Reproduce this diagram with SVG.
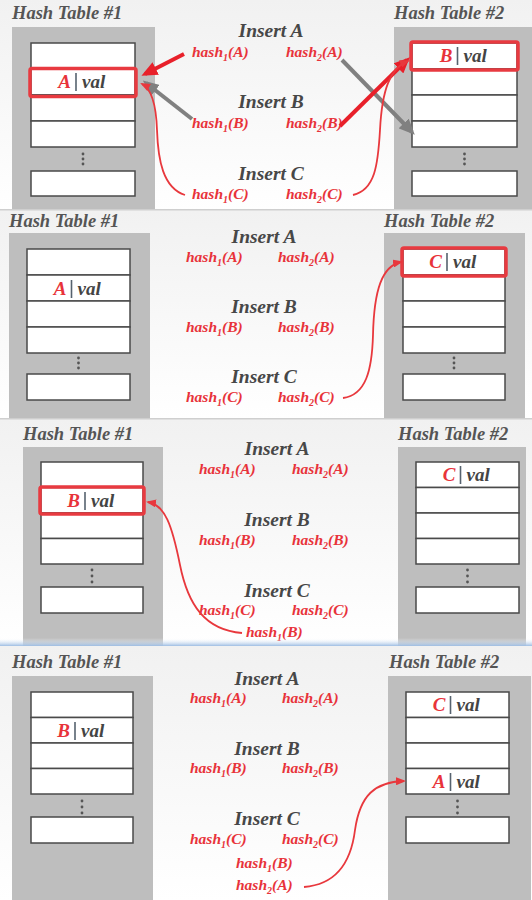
<svg xmlns="http://www.w3.org/2000/svg" width="532" height="900" viewBox="0 0 532 900">
<style>
.bg{fill:url(#bgg)}
.title{font-family:"Liberation Serif","DejaVu Serif",serif;font-style:italic;font-weight:bold;font-size:18.5px;fill:#555}
.ins{font-family:"Liberation Serif","DejaVu Serif",serif;font-style:italic;font-weight:bold;font-size:19.5px;fill:#474747;text-anchor:middle}
.h{font-family:"Liberation Serif","DejaVu Serif",serif;font-style:italic;font-weight:bold;font-size:15.5px;fill:#e8333a}
.sub{font-size:10px}
.tbl{fill:#bebebe}
.slot{fill:#fff;stroke:#4a4a4a;stroke-width:1.5}
.hl{fill:none;stroke:#e83a40;stroke-width:3.5}
.k{font-family:"Liberation Serif","DejaVu Serif",serif;font-style:italic;font-weight:bold;font-size:19px;fill:#e8333a;text-anchor:end}
.v{font-family:"Liberation Serif","DejaVu Serif",serif;font-style:italic;font-weight:bold;font-size:19px;fill:#444}
.bar{stroke:#56626e;stroke-width:1.6}
.dot{fill:#555}
.tr{fill:none;stroke:#e8202a;stroke-width:4}
.tg{fill:none;stroke:#808080;stroke-width:4}
.thin{fill:none;stroke:#e8383d;stroke-width:1.8}
.sep{fill:#cfcfcf}
</style>
<defs>
<linearGradient id="bgg" x1="0" y1="0" x2="0" y2="1">
<stop offset="0" stop-color="#f1f1f1"/>
<stop offset="1" stop-color="#ffffff"/>
</linearGradient>
<linearGradient id="blue" x1="0" y1="0" x2="0" y2="1">
<stop offset="0" stop-color="#ffffff" stop-opacity="0"/>
<stop offset="1" stop-color="#9dbde3"/>
</linearGradient>
<marker id="ar" markerUnits="userSpaceOnUse" viewBox="0 0 16 14" markerWidth="16" markerHeight="14" refX="12" refY="7" orient="auto"><path d="M0,0 L16,7 L0,14 z" fill="#e8202a"/></marker>
<marker id="ag" markerUnits="userSpaceOnUse" viewBox="0 0 16 14" markerWidth="16" markerHeight="14" refX="12" refY="7" orient="auto"><path d="M0,0 L16,7 L0,14 z" fill="#808080"/></marker>
<marker id="at" markerUnits="userSpaceOnUse" viewBox="0 0 10 8" markerWidth="10" markerHeight="8" refX="8" refY="4" orient="auto"><path d="M0,0 L10,4 L0,8 z" fill="#e8383d"/></marker>
</defs>

<!-- panel backgrounds -->
<g id="backgrounds">
<rect class="bg" x="0" y="0" width="532" height="210"/>
<rect class="bg" x="0" y="210" width="532" height="209"/>
<rect class="bg" x="0" y="419" width="532" height="227"/>
<rect class="bg" x="0" y="646" width="532" height="254"/>
</g>

<!-- ================= PANEL 1 ================= -->
<g id="p1">
<text class="title" x="12" y="19">Hash Table #1</text>
<text class="title" x="394" y="19">Hash Table #2</text>
<g id="p1-ht1">
<rect class="tbl" x="12" y="27" width="143" height="183"/>
<rect class="slot" x="31" y="43" width="104" height="26"/>
<rect class="slot" x="31" y="69" width="104" height="26"/>
<rect class="slot" x="31" y="95" width="104" height="26"/>
<rect class="slot" x="31" y="121" width="104" height="26"/>
<circle class="dot" cx="83" cy="154" r="1.4"/><circle class="dot" cx="83" cy="159" r="1.4"/><circle class="dot" cx="83" cy="164" r="1.4"/>
<rect class="slot" x="31" y="171" width="104" height="25"/>
<rect class="hl" x="30" y="68.5" width="106" height="28" rx="2"/>
<text class="k" x="71" y="88">A</text><line class="bar" x1="76" y1="73" x2="76" y2="91"/><text class="v" x="82" y="88">val</text>
</g>
<g id="p1-ht2">
<rect class="tbl" x="394" y="27" width="138" height="183"/>
<rect class="slot" x="412" y="43" width="105" height="26"/>
<rect class="slot" x="412" y="69" width="105" height="26"/>
<rect class="slot" x="412" y="95" width="105" height="26"/>
<rect class="slot" x="412" y="121" width="105" height="26"/>
<circle class="dot" cx="464.5" cy="154" r="1.4"/><circle class="dot" cx="464.5" cy="159" r="1.4"/><circle class="dot" cx="464.5" cy="164" r="1.4"/>
<rect class="slot" x="412" y="171" width="105" height="25"/>
<rect class="hl" x="411" y="42" width="107" height="28" rx="2"/>
<text class="k" x="452.5" y="62">B</text><line class="bar" x1="457.5" y1="47" x2="457.5" y2="65"/><text class="v" x="463.5" y="62">val</text>
</g>
<g id="p1-ops">
<text class="ins" x="271" y="37">Insert A</text>
<text class="h" x="192" y="57">hash<tspan class="sub" dy="4">1</tspan><tspan dy="-4">(A)</tspan></text>
<text class="h" x="286" y="57">hash<tspan class="sub" dy="4">2</tspan><tspan dy="-4">(A)</tspan></text>
<text class="ins" x="271" y="108">Insert B</text>
<text class="h" x="192" y="128">hash<tspan class="sub" dy="4">1</tspan><tspan dy="-4">(B)</tspan></text>
<text class="h" x="286" y="128">hash<tspan class="sub" dy="4">2</tspan><tspan dy="-4">(B)</tspan></text>
<text class="ins" x="271" y="180">Insert C</text>
<text class="h" x="192" y="199">hash<tspan class="sub" dy="4">1</tspan><tspan dy="-4">(C)</tspan></text>
<text class="h" x="286" y="199">hash<tspan class="sub" dy="4">2</tspan><tspan dy="-4">(C)</tspan></text>
</g>
</g>

<!-- ================= PANEL 2 ================= -->
<g id="p2">
<text class="title" x="9" y="227">Hash Table #1</text>
<text class="title" x="384" y="227">Hash Table #2</text>
<g id="p2-ht1">
<rect class="tbl" x="9" y="233" width="141" height="186"/>
<rect class="slot" x="27" y="249" width="103" height="26"/>
<rect class="slot" x="27" y="275" width="103" height="26"/>
<rect class="slot" x="27" y="301" width="103" height="26"/>
<rect class="slot" x="27" y="327" width="103" height="26"/>
<circle class="dot" cx="78.5" cy="358" r="1.4"/><circle class="dot" cx="78.5" cy="363" r="1.4"/><circle class="dot" cx="78.5" cy="368" r="1.4"/>
<rect class="slot" x="27" y="374" width="103" height="26"/>
<text class="k" x="66.5" y="295">A</text><line class="bar" x1="71.5" y1="280" x2="71.5" y2="298"/><text class="v" x="77.5" y="295">val</text>
</g>
<g id="p2-ht2">
<rect class="tbl" x="384" y="233" width="141" height="186"/>
<rect class="slot" x="403" y="249" width="102" height="26"/>
<rect class="slot" x="403" y="275" width="102" height="26"/>
<rect class="slot" x="403" y="301" width="102" height="26"/>
<rect class="slot" x="403" y="327" width="102" height="26"/>
<circle class="dot" cx="454" cy="358" r="1.4"/><circle class="dot" cx="454" cy="363" r="1.4"/><circle class="dot" cx="454" cy="368" r="1.4"/>
<rect class="slot" x="403" y="374" width="102" height="26"/>
<rect class="hl" x="402" y="248" width="104" height="28" rx="2"/>
<text class="k" x="442" y="268">C</text><line class="bar" x1="447" y1="253" x2="447" y2="271"/><text class="v" x="453" y="268">val</text>
</g>
<g id="p2-ops">
<text class="ins" x="264" y="243">Insert A</text>
<text class="h" x="186" y="262">hash<tspan class="sub" dy="4">1</tspan><tspan dy="-4">(A)</tspan></text>
<text class="h" x="278" y="262">hash<tspan class="sub" dy="4">2</tspan><tspan dy="-4">(A)</tspan></text>
<text class="ins" x="264" y="313">Insert B</text>
<text class="h" x="186" y="332">hash<tspan class="sub" dy="4">1</tspan><tspan dy="-4">(B)</tspan></text>
<text class="h" x="278" y="332">hash<tspan class="sub" dy="4">2</tspan><tspan dy="-4">(B)</tspan></text>
<text class="ins" x="264" y="383">Insert C</text>
<text class="h" x="186" y="402">hash<tspan class="sub" dy="4">1</tspan><tspan dy="-4">(C)</tspan></text>
<text class="h" x="278" y="402">hash<tspan class="sub" dy="4">2</tspan><tspan dy="-4">(C)</tspan></text>
</g>
</g>

<!-- ================= PANEL 3 ================= -->
<g id="p3">
<text class="title" x="23" y="440">Hash Table #1</text>
<text class="title" x="398" y="440">Hash Table #2</text>
<g id="p3-ht1">
<rect class="tbl" x="23" y="447" width="140" height="199"/>
<rect class="slot" x="41" y="462" width="102" height="25.5"/>
<rect class="slot" x="41" y="487.5" width="102" height="25.5"/>
<rect class="slot" x="41" y="513" width="102" height="25.5"/>
<rect class="slot" x="41" y="538.5" width="102" height="25.5"/>
<circle class="dot" cx="92" cy="570" r="1.4"/><circle class="dot" cx="92" cy="576" r="1.4"/><circle class="dot" cx="92" cy="582" r="1.4"/>
<rect class="slot" x="41" y="587" width="102" height="26"/>
<rect class="hl" x="40" y="487" width="104" height="27" rx="2"/>
<text class="k" x="80" y="507">B</text><line class="bar" x1="85" y1="492" x2="85" y2="510"/><text class="v" x="91" y="507">val</text>
</g>
<g id="p3-ht2">
<rect class="tbl" x="398" y="447" width="128" height="199"/>
<rect class="slot" x="416" y="462" width="103" height="25.5"/>
<rect class="slot" x="416" y="487.5" width="103" height="25.5"/>
<rect class="slot" x="416" y="513" width="103" height="25.5"/>
<rect class="slot" x="416" y="538.5" width="103" height="25.5"/>
<circle class="dot" cx="467.5" cy="570" r="1.4"/><circle class="dot" cx="467.5" cy="576" r="1.4"/><circle class="dot" cx="467.5" cy="582" r="1.4"/>
<rect class="slot" x="416" y="587" width="103" height="26"/>
<text class="k" x="455.5" y="481">C</text><line class="bar" x1="460.5" y1="466" x2="460.5" y2="484"/><text class="v" x="466.5" y="481">val</text>
</g>
<g id="p3-ops">
<text class="ins" x="277" y="455">Insert A</text>
<text class="h" x="199" y="474">hash<tspan class="sub" dy="4">1</tspan><tspan dy="-4">(A)</tspan></text>
<text class="h" x="292" y="474">hash<tspan class="sub" dy="4">2</tspan><tspan dy="-4">(A)</tspan></text>
<text class="ins" x="277" y="526">Insert B</text>
<text class="h" x="199" y="545">hash<tspan class="sub" dy="4">1</tspan><tspan dy="-4">(B)</tspan></text>
<text class="h" x="292" y="545">hash<tspan class="sub" dy="4">2</tspan><tspan dy="-4">(B)</tspan></text>
<text class="ins" x="277" y="597">Insert C</text>
<text class="h" x="199" y="615">hash<tspan class="sub" dy="4">1</tspan><tspan dy="-4">(C)</tspan></text>
<text class="h" x="292" y="615">hash<tspan class="sub" dy="4">2</tspan><tspan dy="-4">(C)</tspan></text>
<text class="h" x="246" y="637">hash<tspan class="sub" dy="4">1</tspan><tspan dy="-4">(B)</tspan></text>
</g>
</g>

<!-- ================= PANEL 4 ================= -->
<g id="p4">
<text class="title" x="12" y="668">Hash Table #1</text>
<text class="title" x="389" y="668">Hash Table #2</text>
<g id="p4-ht1">
<rect class="tbl" x="12" y="676" width="141" height="224"/>
<rect class="slot" x="31" y="692" width="102" height="25.5"/>
<rect class="slot" x="31" y="717.5" width="102" height="25.5"/>
<rect class="slot" x="31" y="743" width="102" height="25.5"/>
<rect class="slot" x="31" y="768.5" width="102" height="25.5"/>
<circle class="dot" cx="82" cy="801" r="1.4"/><circle class="dot" cx="82" cy="807" r="1.4"/><circle class="dot" cx="82" cy="813" r="1.4"/>
<rect class="slot" x="31" y="817" width="102" height="26"/>
<text class="k" x="70" y="737">B</text><line class="bar" x1="75" y1="722" x2="75" y2="740"/><text class="v" x="81" y="737">val</text>
</g>
<g id="p4-ht2">
<rect class="tbl" x="388" y="676" width="143" height="224"/>
<rect class="slot" x="406" y="692" width="103" height="25.5"/>
<rect class="slot" x="406" y="717.5" width="103" height="25.5"/>
<rect class="slot" x="406" y="743" width="103" height="25.5"/>
<rect class="slot" x="406" y="768.5" width="103" height="25.5"/>
<circle class="dot" cx="457.5" cy="801" r="1.4"/><circle class="dot" cx="457.5" cy="807" r="1.4"/><circle class="dot" cx="457.5" cy="813" r="1.4"/>
<rect class="slot" x="406" y="817" width="103" height="26"/>
<text class="k" x="445.5" y="711">C</text><line class="bar" x1="450.5" y1="696" x2="450.5" y2="714"/><text class="v" x="456.5" y="711">val</text>
<text class="k" x="445.5" y="788">A</text><line class="bar" x1="450.5" y1="773" x2="450.5" y2="791"/><text class="v" x="456.5" y="788">val</text>
</g>
<g id="p4-ops">
<text class="ins" x="267" y="685">Insert A</text>
<text class="h" x="190" y="703">hash<tspan class="sub" dy="4">1</tspan><tspan dy="-4">(A)</tspan></text>
<text class="h" x="282" y="703">hash<tspan class="sub" dy="4">2</tspan><tspan dy="-4">(A)</tspan></text>
<text class="ins" x="267" y="755">Insert B</text>
<text class="h" x="190" y="773">hash<tspan class="sub" dy="4">1</tspan><tspan dy="-4">(B)</tspan></text>
<text class="h" x="282" y="773">hash<tspan class="sub" dy="4">2</tspan><tspan dy="-4">(B)</tspan></text>
<text class="ins" x="267" y="825">Insert C</text>
<text class="h" x="190" y="844">hash<tspan class="sub" dy="4">1</tspan><tspan dy="-4">(C)</tspan></text>
<text class="h" x="282" y="844">hash<tspan class="sub" dy="4">2</tspan><tspan dy="-4">(C)</tspan></text>
<text class="h" x="236" y="868">hash<tspan class="sub" dy="4">1</tspan><tspan dy="-4">(B)</tspan></text>
<text class="h" x="236" y="890">hash<tspan class="sub" dy="4">2</tspan><tspan dy="-4">(A)</tspan></text>
</g>
</g>

<!-- panel separators -->
<g id="separators">
<rect class="sep" x="0" y="209" width="532" height="1.5"/>
<rect class="sep" x="0" y="418" width="532" height="1.5"/>
<rect x="0" y="638" width="532" height="8" fill="url(#blue)"/>
</g>

<!-- connectors -->
<g id="connectors">
<line class="tr" x1="184" y1="54" x2="145" y2="74" marker-end="url(#ar)"/>
<line class="tg" x1="192" y1="119" x2="146" y2="83" marker-end="url(#ag)"/>
<path class="thin" d="M185,195 C163,188 158,160 157,130 C156,100 150,88 142,84" marker-end="url(#at)"/>
<line class="tg" x1="342" y1="60" x2="412" y2="132" marker-end="url(#ag)"/>
<line class="tr" x1="340" y1="126" x2="407" y2="60" marker-end="url(#ar)"/>
<path class="thin" d="M353,195 C375,190 378,165 380,130 C382,90 390,68 408,61" marker-end="url(#at)"/>
<path class="thin" d="M343,398 C366,395 372,370 373,335 C374,290 382,266 401,262" marker-end="url(#at)"/>
<path class="thin" d="M242,633 C205,630 188,605 180,565 C172,525 165,505 148,502" marker-end="url(#at)"/>
<path class="thin" d="M304,887 C330,885 350,870 355,830 C360,795 375,782 404,781" marker-end="url(#at)"/>
</g>
</svg>
